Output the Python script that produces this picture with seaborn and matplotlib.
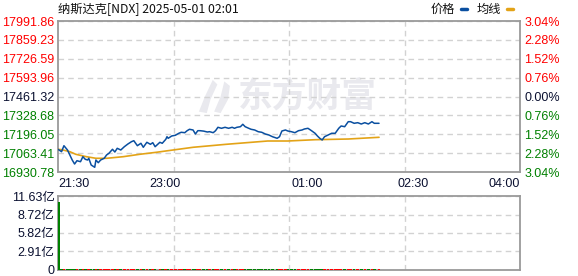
import matplotlib
matplotlib.use("Agg")
import matplotlib.pyplot as plt
from matplotlib.lines import Line2D
from matplotlib.patches import Polygon
import numpy as np
import pandas as pd
import seaborn as sns

# ---------------- data ----------------
title = "纳斯达克[NDX] 2025-05-01 02:01"
prev_close = 17461.32
price_ticks = [16930.78, 17063.41, 17196.05, 17328.68, 17461.32,
               17593.96, 17726.59, 17859.23, 17991.86]
pct_labels = ["3.04%", "2.28%", "1.52%", "0.76%", "0.00%",
              "0.76%", "1.52%", "2.28%", "3.04%"]
time_ticks = [0, 90, 210, 300, 390]
time_labels = ["21:30", "23:00", "01:00", "02:30", "04:00"]

price_min = [0, 3, 5, 8, 10, 12, 14, 16, 19, 21, 23, 25, 26, 28, 31, 32, 34, 36,
             39, 41, 43, 46, 48, 50, 53, 56, 59, 62, 64, 67, 70, 72, 75, 78, 80,
             82, 86, 88, 91, 92, 93, 96, 99, 102, 104, 107, 109, 111, 114, 116,
             118, 120, 123, 126, 128, 131, 133, 135, 138, 141, 144, 147, 149,
             151, 154, 156, 158, 161, 163, 166, 169, 172, 175, 178, 181, 185,
             187, 189, 192, 194, 197, 200, 203, 206, 208, 211, 214, 217, 219,
             221, 223, 225, 228, 231, 234, 237, 239, 242, 245, 247, 250, 253,
             256, 259, 262, 265, 267, 271]
price_val = [17090.3, 17073.5, 17115.6, 17085.4, 17050.3, 17015.1, 16987.0,
             17010.2, 17003.2, 17038.3, 17020.1, 17015.1, 17027.1, 16980.0,
             16963.8, 17015.1, 16996.2, 17015.1, 17027.1, 17050.3, 17062.2,
             17090.3, 17071.3, 17097.3, 17085.4, 17108.6, 17127.5, 17143.7,
             17150.7, 17115.6, 17132.5, 17104.4, 17139.5, 17125.4, 17136.7,
             17108.6, 17139.5, 17132.5, 17160.6, 17178.9, 17167.6, 17183.8,
             17188.7, 17202.8, 17209.8, 17207.0, 17221.0, 17230.9, 17226.0,
             17197.8, 17221.0, 17221.0, 17218.0, 17211.9, 17214.0, 17207.0,
             17221.0, 17244.9, 17237.9, 17244.9, 17237.9, 17244.9, 17237.9,
             17244.9, 17249.1, 17266.0, 17249.1, 17237.9, 17230.9, 17226.0,
             17214.0, 17209.8, 17197.8, 17190.8, 17178.9, 17167.6, 17178.9,
             17218.9, 17226.0, 17218.9, 17214.0, 17207.0, 17221.0, 17226.0,
             17233.0, 17237.9, 17221.0, 17202.8, 17183.8, 17167.6, 17155.7,
             17178.9, 17190.8, 17202.8, 17202.8, 17237.9, 17254.1, 17249.1,
             17284.3, 17284.3, 17273.0, 17277.3, 17268.1, 17277.3, 17268.1,
             17284.3, 17273.0, 17273.0]

avg_min = [0, 3, 10, 15, 24, 32, 41, 55, 69, 83, 91, 114, 142, 177, 194, 217, 245, 271]
avg_val = [17090.0, 17088.0, 17073.5, 17055.2, 17038.3, 17027.1, 17027.1,
           17038.3, 17055.2, 17069.2, 17078.4, 17104.4, 17125.4, 17148.6,
           17148.6, 17157.7, 17162.6, 17174.6]

vol_ticks = [0, 2.91, 5.82, 8.72, 11.63]
vol_labels = ["0", "2.91亿", "5.82亿", "8.72亿", "11.63亿"]
vol_first = 10.7      # 亿, opening minute
vol_small = 0.2       # 亿, every later minute (barely visible)

# ---------------- style ----------------
sns.set_theme(style="white")
plt.rcParams["font.family"] = ["Liberation Sans", "Noto Sans CJK SC", "DejaVu Sans"]
plt.rcParams["axes.unicode_minus"] = False

W, H = 578, 276
fig = plt.figure(figsize=(W / 100, H / 100), dpi=100)
fig.patch.set_facecolor("white")

def fx(px):
    return px / W

def fy(py):
    return 1 - py / H

L, R = 58, 520
ax = fig.add_axes([fx(L), fy(172), fx(R) - fx(L), fy(21) - fy(172)])
axv = fig.add_axes([fx(L), fy(270), fx(R) - fx(L), fy(196) - fy(270)])

RED = "#ff0000"
GREEN = "#008000"
DARK = "#0a1030"
BLUE = "#0a4fa0"
ORANGE = "#e3a317"
GRID = "#d2d2d2"
SPINE = "#9a9a9a"
XMAX = 390

df_price = pd.DataFrame({"m": price_min, "p": price_val})
df_avg = pd.DataFrame({"m": avg_min, "p": avg_val})

for a in (ax, axv):
    a.set_facecolor("white")
    for s in a.spines.values():
        s.set_color(SPINE)
        s.set_linewidth(1.3)
    a.set_xlim(0, XMAX)
    a.set_xticks([XMAX / 4, XMAX / 2, 3 * XMAX / 4], minor=True)
    a.grid(which="minor", axis="x", color=GRID, linestyle=(0, (4, 3)), linewidth=1)
    a.tick_params(which="both", length=0)

# watermark
ax.text(0.541, 0.5, "东方财富", transform=ax.transAxes, fontsize=25,
        fontweight="bold", color="#e9e9ee", ha="center", va="center",
        family=["Noto Sans CJK SC"], zorder=0)
blade1 = Polygon([[0.335, 0.61], [0.318, 0.50], [0.305, 0.40], [0.322, 0.39],
                  [0.330, 0.48], [0.345, 0.58]], closed=True,
                 transform=ax.transAxes, facecolor="#e9e9ee", edgecolor="none", zorder=0)
blade2 = Polygon([[0.360, 0.60], [0.352, 0.50], [0.338, 0.40], [0.352, 0.39],
                  [0.368, 0.48], [0.372, 0.57]], closed=True,
                 transform=ax.transAxes, facecolor="#e9e9ee", edgecolor="none", zorder=0)
ax.add_patch(blade1)
ax.add_patch(blade2)

# price & average lines
sns.lineplot(data=df_avg, x="m", y="p", ax=ax, color=ORANGE, linewidth=1.2, zorder=3)
sns.lineplot(data=df_price, x="m", y="p", ax=ax, color=BLUE, linewidth=1.1, zorder=4)
ax.set_xlabel("")
ax.set_ylabel("")

ax.set_ylim(price_ticks[0], price_ticks[-1])
ax.set_yticks(price_ticks)
ax.set_yticklabels([f"{t:.2f}" for t in price_ticks], fontsize=9)
ax.grid(which="major", axis="y", color=GRID, linestyle=(0, (4, 3)), linewidth=1)
ax.grid(which="major", axis="x", visible=False)
for t, lab in zip(price_ticks, ax.get_yticklabels()):
    lab.set_color(RED if t > prev_close + 0.01 else (GREEN if t < prev_close - 0.01 else DARK))
ax.tick_params(axis="y", pad=2.5)

ax.set_xticks(time_ticks)
ax.set_xticklabels(time_labels, fontsize=9, color=DARK)
ax.tick_params(axis="x", pad=4)
xl = ax.get_xticklabels()
xl[0].set_ha("left")
xl[-1].set_ha("right")

axr = ax.twinx()
axr.set_ylim(price_ticks[0], price_ticks[-1])
axr.set_yticks(price_ticks)
axr.set_yticklabels(pct_labels, fontsize=9)
for t, lab in zip(price_ticks, axr.get_yticklabels()):
    lab.set_color(RED if t > prev_close + 0.01 else (GREEN if t < prev_close - 0.01 else DARK))
axr.tick_params(length=0, pad=3)
axr.grid(False)
for s in axr.spines.values():
    s.set_visible(False)

# volume
vols = [vol_first] + [vol_small] * (len(price_min) - 1)
vcolors = [GREEN] + [RED if price_val[i] >= price_val[i - 1] else GREEN
                     for i in range(1, len(price_min))]
vx = [1] + price_min[1:]
axv.bar(vx, vols, width=[1.3] + [2.2] * (len(vx) - 1), color=vcolors, linewidth=0, zorder=3)
axv.set_ylim(0, vol_ticks[-1])
axv.set_yticks(vol_ticks)
axv.set_yticklabels(vol_labels, fontsize=9, color=DARK)
axv.tick_params(axis="y", pad=2.5)
axv.grid(which="major", axis="y", color=GRID, linestyle=(0, (4, 3)), linewidth=1)
axv.grid(which="major", axis="x", visible=False)
axv.set_xticks([])

# header
fig.text(fx(58), fy(9), title, fontsize=8.8, color="#111111", ha="left", va="center",
         family=["Noto Sans CJK SC", "DejaVu Sans"])
fig.text(fx(431), fy(9), "价格", fontsize=8.8, color="#111111", ha="left", va="center",
         family=["Noto Sans CJK SC"])
fig.text(fx(477), fy(9), "均线", fontsize=8.8, color="#111111", ha="left", va="center",
         family=["Noto Sans CJK SC"])
fig.add_artist(Line2D([fx(461), fx(467)], [fy(8.5), fy(8.5)], color=BLUE, linewidth=2.5,
                      transform=fig.transFigure))
fig.add_artist(Line2D([fx(507), fx(513)], [fy(8.5), fy(8.5)], color=ORANGE, linewidth=2.5,
                      transform=fig.transFigure))

fig.savefig("out.png", dpi=100, facecolor="white")
